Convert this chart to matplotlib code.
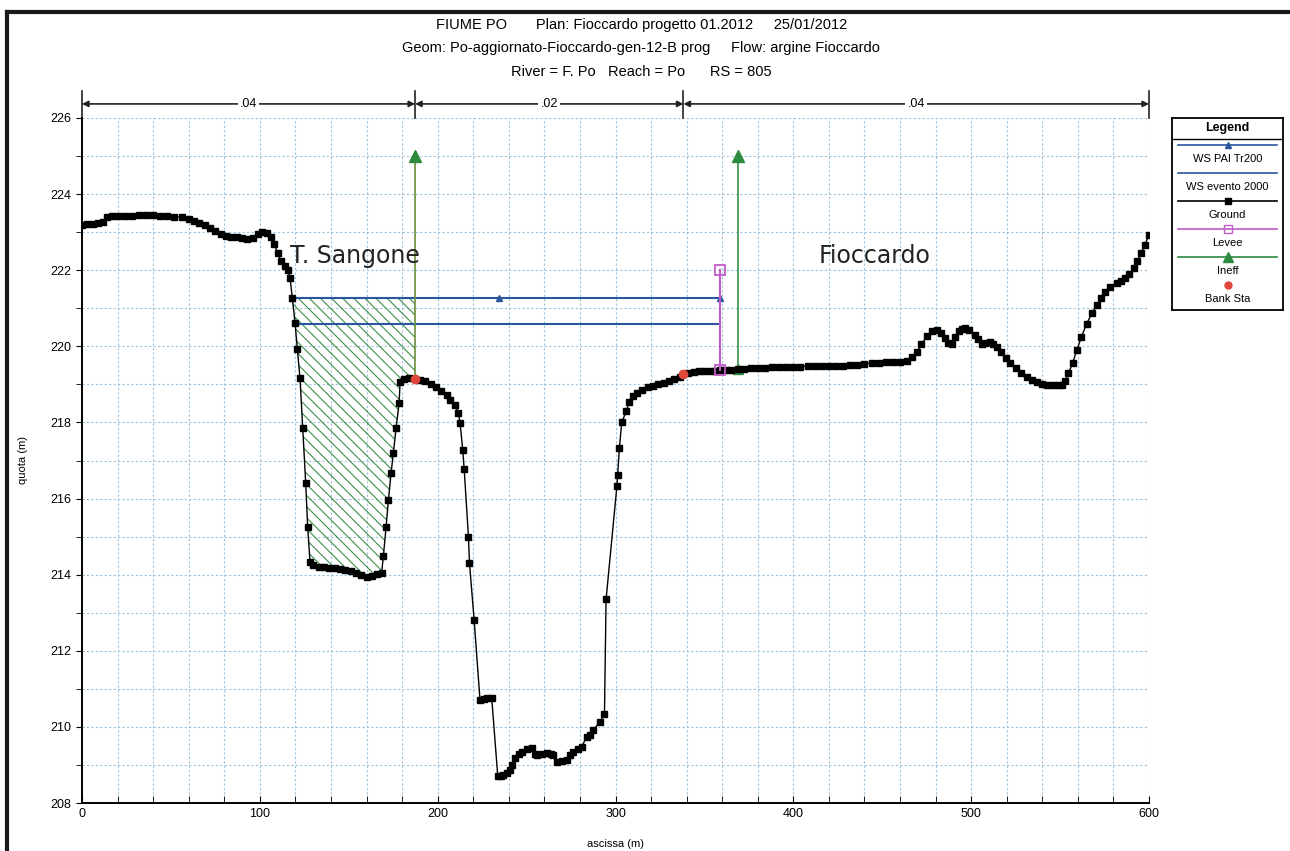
import numpy as np
import matplotlib
matplotlib.use('Agg')
import matplotlib.pyplot as plt
from matplotlib.ticker import MultipleLocator

plt.rcParams['font.family'] = ['Liberation Sans', 'DejaVu Sans']
plt.rcParams['hatch.linewidth'] = 0.8

# ground profile (station, elevation)
ground_x = [0, 3, 6, 9, 12, 14, 17, 20, 24, 28, 32, 36, 40, 44, 48, 52, 56, 60, 63, 66, 69, 72,
            75, 78, 81, 84, 87, 90, 93, 96, 99, 101, 104, 106, 108, 110, 112, 114, 116, 117,
            118.3, 119.8, 121.1, 122.6, 124.1, 125.8, 126.9, 128.2,
            130, 133, 136, 139, 142, 145, 148, 151, 154, 157, 160, 163, 166, 168.5,
            169.5, 171, 172.3, 173.8, 175.1, 176.6, 178.3, 178.9,
            181, 184, 187.3, 190, 193, 196, 199, 202, 205, 207, 209.8, 211.7, 212.6,
            214.1, 214.9, 217.3, 217.9, 220.5, 223.8, 226, 228, 230.4,
            233.8, 235.5, 237, 239, 240.7, 242, 243.5, 245.5, 247.3, 250, 252.9, 254.5, 255.7,
            258.5, 261.4, 263.5, 265.1, 267, 270, 272.6, 274.5, 276.3, 279, 281, 283.8, 285.5,
            287.6, 291.3, 293.8, 294.7, 300.8, 301.2, 302.2, 303.5, 306, 307.8, 310, 312,
            315, 318, 321, 324, 327, 330, 333, 336, 338.2, 341, 344, 347, 350, 353, 356, 359,
            362, 365, 368.8, 372, 376, 380, 384, 388, 392, 396, 400, 404, 408, 412, 416, 420,
            424, 428, 432, 436, 440, 444, 448, 452, 456, 460, 464, 467, 469.5, 472, 475, 478,
            480.7, 483, 485.4, 487, 489.1, 491, 492.9, 494.8, 496.6, 499, 502.2, 504, 506, 508,
            510.7, 512.5, 514.4, 517, 519.5, 522, 525, 528, 531.3, 534, 537, 540, 542.6, 546,
            549, 551, 553, 554.7, 557, 559.4, 562, 565, 568, 570.7, 573, 575.4, 578, 581.9,
            584, 586.6, 589, 591.3, 593.5, 595.5, 597.5, 600]
ground_y = [223.2, 223.21, 223.22, 223.24, 223.28, 223.4, 223.42, 223.42, 223.43, 223.43, 223.44,
            223.44, 223.44, 223.43, 223.42, 223.41, 223.39, 223.34, 223.3, 223.25, 223.18, 223.1,
            223.02, 222.94, 222.89, 222.87, 222.86, 222.84, 222.82, 222.85, 222.95, 223.0, 222.97,
            222.88, 222.7, 222.45, 222.25, 222.12, 222.0, 221.8,
            221.26, 220.62, 219.92, 219.16, 217.85, 216.4, 215.26, 214.34,
            214.25, 214.2, 214.2, 214.18, 214.17, 214.15, 214.12, 214.1, 214.05, 214.0, 213.95,
            213.97, 214.02, 214.05,
            214.5, 215.26, 215.96, 216.67, 217.2, 217.85, 218.5, 219.07,
            219.15, 219.17, 219.15, 219.12, 219.08, 219.0, 218.92, 218.83, 218.72, 218.6, 218.46,
            218.24, 217.98,
            217.28, 216.78, 215.0, 214.3, 212.81, 210.71, 210.74, 210.75, 210.76,
            208.7, 208.72, 208.74, 208.8, 208.87, 209.0, 209.18, 209.28, 209.35, 209.42, 209.44,
            209.3, 209.26,
            209.3, 209.31, 209.28, 209.26, 209.09, 209.1, 209.13, 209.25, 209.35, 209.42, 209.48,
            209.74, 209.8,
            209.92, 210.14, 210.34, 213.35, 216.33, 216.62, 217.34, 218.0, 218.29, 218.55, 218.7,
            218.77,
            218.86, 218.92, 218.97, 219.0, 219.04, 219.08, 219.14, 219.2, 219.27, 219.3, 219.32,
            219.34, 219.35, 219.36, 219.36, 219.37,
            219.38, 219.39, 219.4, 219.41, 219.42, 219.43, 219.44, 219.45, 219.46, 219.47, 219.47,
            219.47, 219.48, 219.48, 219.48, 219.48,
            219.49, 219.49, 219.5, 219.52, 219.54, 219.56, 219.57, 219.58, 219.59, 219.6, 219.62,
            219.72, 219.85, 220.05, 220.26, 220.4,
            220.43, 220.35, 220.21, 220.1, 220.06, 220.25, 220.39, 220.46, 220.48, 220.42, 220.3,
            220.2, 220.06, 220.08,
            220.12, 220.05, 219.99, 219.85, 219.7, 219.55, 219.42, 219.3, 219.2, 219.12, 219.05,
            219.0, 218.99, 218.98,
            218.98, 218.99, 219.1, 219.29, 219.55, 219.9, 220.25, 220.6, 220.88, 221.09, 221.28,
            221.44, 221.55, 221.66,
            221.72, 221.79, 221.9, 222.05, 222.25, 222.45, 222.65, 222.93]

ws_pai_x = [118.3, 234.5, 358.8]
ws_pai_y = [221.26, 221.26, 221.26]
ws_evento_x = [119.8, 358.8]
ws_evento_y = [220.6, 220.6]
levee_x = [358.8, 358.8]
levee_y = [219.37, 222.0]
ineff_left_x = [187.3, 187.3]
ineff_left_y = [219.15, 225.0]
ineff_right_x = [368.8, 368.8]
ineff_right_y = [219.4, 225.0]
bank_x = [187.3, 338.2]
bank_y = [219.15, 219.27]
n_edges = [0, 187.3, 338.2, 600]
n_values = ['.04', '.02', '.04']

blue = '#2a56a0'
green = '#3f8f4a'
magenta = '#c05cc8'
red = '#e0483c'

fig = plt.figure(figsize=(12.9, 8.51), dpi=100)
ax = fig.add_axes([82/1290, 48/851, 1067/1290, 685/851])

ax.set_xlim(0, 600)
ax.set_ylim(208, 226)
ax.xaxis.set_major_locator(MultipleLocator(100))
ax.xaxis.set_minor_locator(MultipleLocator(20))
ax.yaxis.set_major_locator(MultipleLocator(2))
ax.yaxis.set_minor_locator(MultipleLocator(1))
ax.grid(which='both', color='#9cc3dd', linestyle=(0, (2, 2)), linewidth=0.8)
ax.set_axisbelow(True)
for s in ['top', 'right']:
    ax.spines[s].set_visible(False)
for s in ['left', 'bottom']:
    ax.spines[s].set_linewidth(1.4)
ax.tick_params(axis='x', which='both', direction='in', labelsize=9, length=5)
ax.tick_params(axis='y', which='both', direction='out', labelsize=9, length=4)
ax.set_xlabel('ascissa (m)', fontsize=8, labelpad=14)
ax.set_ylabel('quota (m)', fontsize=8, labelpad=16)

# ineffective area hatch
gx = np.array(ground_x)
gy = np.array(ground_y)
m = (gx >= ws_pai_x[0]) & (gx <= ineff_left_x[0])
ax.fill_between(gx[m], gy[m], ws_pai_y[0], facecolor='none', edgecolor=green,
                hatch='\\\\\\', linewidth=0)

ax.plot(ws_pai_x, ws_pai_y, color=blue, lw=1.5, marker='^', ms=5, zorder=3)
ax.plot(ws_evento_x, ws_evento_y, color=blue, lw=1.5, zorder=3)
ax.plot(ineff_left_x, ineff_left_y, color='#6b8f3a', lw=1.2, zorder=3)
ax.plot(ineff_right_x, ineff_right_y, color='#3f8f4a', lw=1.2, zorder=3)
ax.plot([ineff_left_x[1], ineff_right_x[1]], [ineff_left_y[1], ineff_right_y[1]], ls='none',
        marker='^', ms=8, color='#2e8b3e', zorder=4)
ax.plot([ineff_right_x[0]], [ineff_right_y[0]], ls='none', marker='^', ms=7, color='#2e8b3e', zorder=4)
ax.plot(gx, gy, color='black', lw=1, marker='s', ms=5, zorder=5)
ax.plot(levee_x, levee_y, color=magenta, lw=1.5, marker='s', ms=7, mfc='none', mew=1.3, zorder=6)
ax.plot(bank_x, bank_y, ls='none', marker='o', ms=6, color=red, zorder=7)

ax.text(117, 222.2, 'T. Sangone', fontsize=17, family='DejaVu Sans', color='#222222')
ax.text(414, 222.2, 'Fioccardo', fontsize=17, family='DejaVu Sans', color='#222222')

# Manning's n bar above the plot
ybar = 226.37
for xe in n_edges:
    ax.plot([xe, xe], [226.0, 226.7], color='#222222', lw=1.2, clip_on=False)
for i, lab in enumerate(n_values):
    x0, x1 = n_edges[i], n_edges[i + 1]
    ax.annotate('', xy=(x0, ybar), xytext=(x1, ybar), annotation_clip=False,
                arrowprops=dict(arrowstyle='<|-|>', color='#222222', lw=1.2,
                                mutation_scale=9, shrinkA=0, shrinkB=0))
    ax.text((x0 + x1) / 2, ybar, lab, fontsize=9, ha='center', va='center', clip_on=False,
            bbox=dict(facecolor='white', edgecolor='none', pad=1.5))

# titles
fig.text(0.497, 1 - 25/851, 'FIUME PO       Plan: Fioccardo progetto 01.2012     25/01/2012',
         ha='center', va='center', fontsize=10.5)
fig.text(0.497, 1 - 48/851, 'Geom: Po-aggiornato-Fioccardo-gen-12-B prog     Flow: argine Fioccardo',
         ha='center', va='center', fontsize=10.5)
fig.text(0.497, 1 - 72/851, 'River = F. Po   Reach = Po      RS = 805',
         ha='center', va='center', fontsize=10.5)

# outer frame (left and top edges)
fig.add_artist(plt.Line2D([7/1290, 7/1290], [0, 1 - 12/851], color='#1a1a1a', lw=3,
                          transform=fig.transFigure))
fig.add_artist(plt.Line2D([7/1290, 1], [1 - 12/851, 1 - 12/851], color='#1a1a1a', lw=3,
                          transform=fig.transFigure))

# legend box
lg = fig.add_axes([1172/1290, 1 - 310/851, 111/1290, 192/851])
lg.set_xlim(0, 111)
lg.set_ylim(192, 0)
lg.set_xticks([])
lg.set_yticks([])
for s in lg.spines.values():
    s.set_linewidth(1.3)
lg.text(55.5, 10, 'Legend', ha='center', va='center', fontsize=9, fontweight='bold')
lg.plot([0, 111], [21, 21], color='black', lw=1)
entries = [('WS PAI Tr200', blue, '^', blue, 5),
           ('WS evento 2000', blue, None, blue, 0),
           ('Ground', 'black', 's', 'black', 4.5),
           ('Levee', magenta, 's', 'none', 6),
           ('Ineff', '#2e8b3e', '^', '#2e8b3e', 7),
           ('Bank Sta', None, 'o', red, 5)]
for i, (lab, lc, mk, mfc, ms) in enumerate(entries):
    yl = 27 + i * 28
    if lc is not None:
        lg.plot([6, 105], [yl, yl], color=lc, lw=1.2)
    if mk is not None:
        lg.plot([55.5], [yl], marker=mk, ms=ms, color=mfc if mfc != 'none' else lc,
                mfc=mfc if mfc != 'none' else 'none', mec=lc if lc else mfc, ls='none')
    lg.text(55.5, yl + 14, lab, ha='center', va='center', fontsize=8)

fig.savefig('out.png', dpi=100)
